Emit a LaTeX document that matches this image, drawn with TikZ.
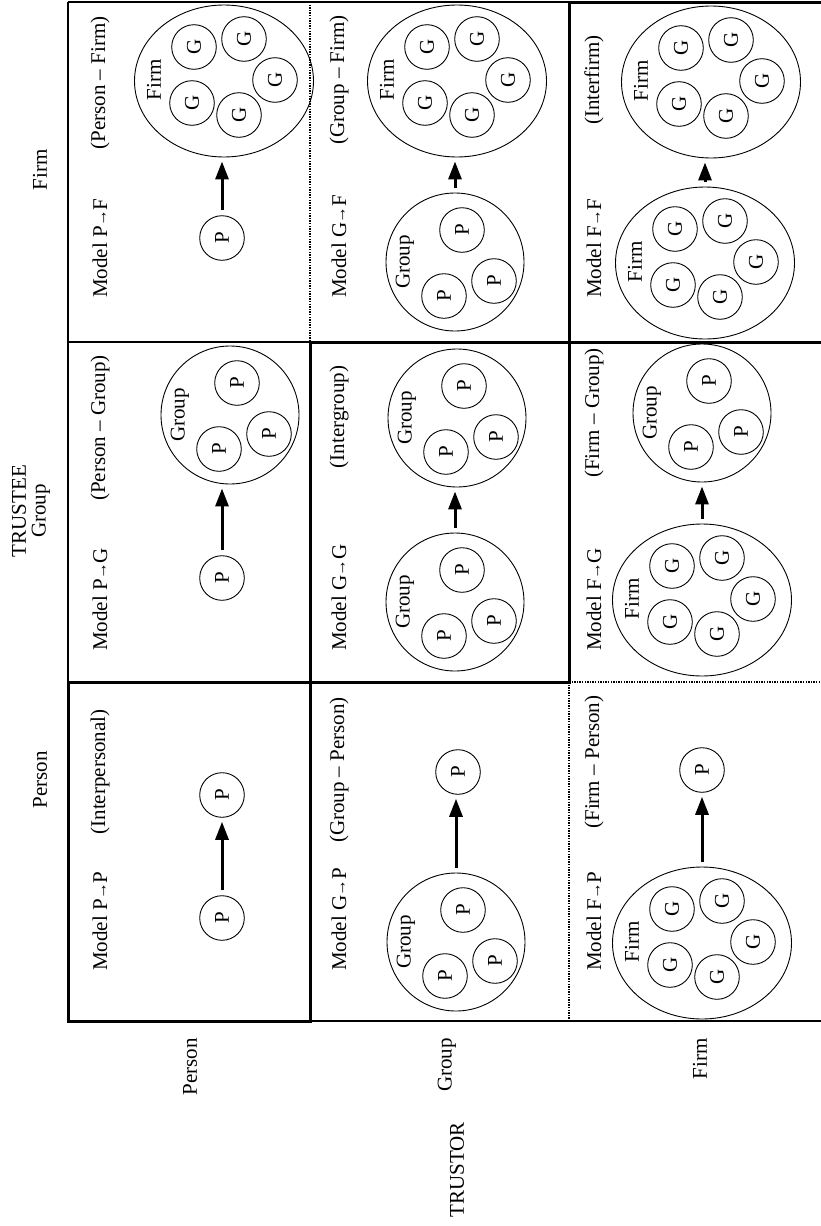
\documentclass[tikz,border=0pt]{standalone}
\usepackage{graphicx}
\usepackage{fontspec}
\setmainfont{Liberation Serif}
\usetikzlibrary{arrows.meta,shapes.geometric}

% upright letter turned a quarter, for the unit circles
\newcommand{\turned}[1]{\rotatebox{90}{#1}}
% compact arrow used in the model names
\newcommand{\tarrow}{\kern-0.5pt\raisebox{0.5pt}{\scalebox{0.8}{→}}\kern-0.5pt}

\tikzset{
  txt/.style={rotate=90, inner sep=0pt},
  unit/.style={circle, draw, line width=0.9pt, minimum size=44.6pt, inner sep=0pt},
  grpc/.style={circle, draw, line width=0.9pt, minimum size=138pt, inner sep=0pt},
  firmc/.style={ellipse, draw, line width=0.9pt, minimum width=179pt, minimum height=152pt, inner sep=0pt},
  trust/.style={line width=3pt, -{Triangle[length=18pt,width=13pt]}, shorten <=5pt, shorten >=4pt},
  gridthin/.style={line width=1.1pt},
  gridbold/.style={line width=3pt, line join=miter},
  griddot/.style={line width=1.8pt, dash pattern=on 1.4pt off 1.2pt},
  grouppic/.pic={
    \node[grpc] (-o) at (0,0) {};
    \node[txt] (-t) at (-50,0) {Group};
    \node[unit] (-a) at (7,-32) {\turned{P}};
    \node[unit] (-b) at (-11,34) {\turned{P}};
    \node[unit] (-c) at (39,19) {\turned{P}};
  },
  firmpic/.pic={
    \node[firmc] (-o) at (0,0) {};
    \node[txt] (-t) at (-70,-1) {Firm};
    \node[unit] (-a) at (-30,-34) {\turned{G}};
    \node[unit] (-b) at (20,-42) {\turned{G}};
    \node[unit] (-c) at (51,-1) {\turned{G}};
    \node[unit] (-d) at (15,34) {\turned{G}};
    \node[unit] (-e) at (-32,22) {\turned{G}};
  },
}

\begin{document}
\begin{tikzpicture}[x=1pt, y=-1pt, font=\fontsize{21}{25}\selectfont]
\useasboundingbox (0,0) rectangle (821,1226);

% ---- table rules ----
\draw[gridthin] (68,2) -- (821,2);
\draw[gridthin] (68,342) -- (821,342);
\draw[gridthin] (68,682) -- (569,682);
\draw[gridthin] (68,1021) -- (821,1021);
\draw[gridthin] (68,2) -- (68,1021);
\draw[gridthin] (310,342) -- (310,1021);
\draw[gridthin] (569,2) -- (569,682);
\draw[griddot] (310,2) -- (310,342);
\draw[griddot] (569,682) -- (569,1021);
\draw[griddot] (569,682) -- (821,682);
% same-level cells framed in bold
\draw[gridbold] (68,682) rectangle (310,1021);
\draw[gridbold] (310,342) rectangle (569,682);
\draw[gridbold] (821,2) -- (569,2) -- (569,342) -- (821,342);

% ---- headings ----
\node[txt] (hP) at (40,780) {Person};
\node[txt] (hT) at (19,511) {TRUSTEE};
\node[txt] (hG) at (41,511) {Group};
\node[txt] (hF) at (40,170) {Firm};
\node[txt, anchor=east] (rP) at (190,1038) {Person};
\node[txt, anchor=east] (rG) at (447,1038) {Group};
\node[txt, anchor=east] (rF) at (700,1038) {Firm};
\node[txt] (rT) at (457,1170) {TRUSTOR};

% ---- cell titles ----
\node[txt, anchor=west] (mPP) at (100,971) {Model P\tarrow P};
\node[txt, anchor=west] (mGP) at (339,971) {Model G\tarrow P};
\node[txt, anchor=west] (mFP) at (594,971) {Model F\tarrow P};
\node[txt, anchor=west] (mPG) at (100,651) {Model P\tarrow G};
\node[txt, anchor=west] (mGG) at (339,651) {Model G\tarrow G};
\node[txt, anchor=west] (mFG) at (594,651) {Model F\tarrow G};
\node[txt, anchor=west] (mPF) at (100,298) {Model P\tarrow F};
\node[txt, anchor=west] (mGF) at (339,298) {Model G\tarrow F};
\node[txt, anchor=west] (mFF) at (594,298) {Model F\tarrow F};

\node[txt] (lPP) at (100,772) {(Interpersonal)};
\node[txt] (lGP) at (339,770) {(Group – Person)};
\node[txt] (lFP) at (594,762) {(Firm – Person)};
\node[txt] (lPG) at (100,428) {(Person – Group)};
\node[txt] (lGG) at (339,417) {(Intergroup)};
\node[txt] (lFG) at (594,413) {(Firm – Group)};
\node[txt] (lPF) at (100,83) {(Person – Firm)};
\node[txt] (lGF) at (339,80) {(Group – Firm)};
\node[txt] (lFF) at (594,80) {(Interfirm)};

% ---- row Person ----
\node[unit] (ppA) at (222,918) {\turned{P}};
\node[unit] (ppB) at (222,795) {\turned{P}};
\draw[trust] (ppA.north) -- (ppA.north |- ppB.south);

\node[unit] (pgA) at (222,578) {\turned{P}};
\pic (pgB) at (230,415) {grouppic};
\draw[trust] (pgA.north) -- (pgA.north |- pgB-o.south);

\node[unit] (pfA) at (222,238) {\turned{P}};
\pic (pfB) at (224,81) {firmpic};
\draw[trust] (pfA.north) -- (pfA.north |- pfB-o.south);

% ---- row Group ----
\pic (gpA) at (456,942) {grouppic};
\node[unit] (gpB) at (458,772) {\turned{P}};
\draw[trust] (gpA-o.north) -- (gpA-o.north |- gpB.south);

\pic (ggA) at (455,602) {grouppic};
\pic (ggB) at (457,418) {grouppic};
\draw[trust] (ggA-o.north) -- (ggA-o.north |- ggB-o.south);

\pic (gfA) at (455,262) {grouppic};
\pic (gfB) at (457,81) {firmpic};
\draw[trust] (gfA-o.north) -- (gfA-o.north |- gfB-o.south);

% ---- row Firm ----
\pic (fpA) at (702,943) {firmpic};
\node[unit] (fpB) at (702,770) {\turned{P}};
\draw[trust] (fpA-o.north) -- (fpA-o.north |- fpB.south);

\pic (fgA) at (702,600) {firmpic};
\pic (fgB) at (702,413) {grouppic};
\draw[trust] (fgA-o.north) -- (fgA-o.north |- fgB-o.south);

\pic (ffA) at (705,263) {firmpic};
\pic (ffB) at (711,82) {firmpic};
\draw[trust] (ffA-o.north) -- (ffA-o.north |- ffB-o.south);
\end{tikzpicture}
\end{document}
